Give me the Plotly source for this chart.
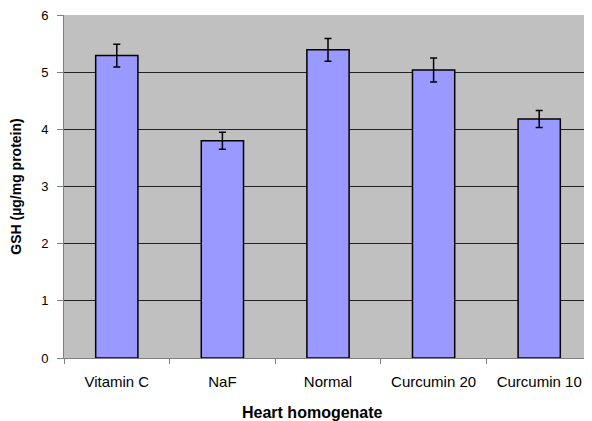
import plotly.graph_objects as go

categories = ["Vitamin C", "NaF", "Normal", "Curcumin 20", "Curcumin 10"]
gsh_values = [5.29, 3.80, 5.39, 5.04, 4.18]
gsh_errors = [0.20, 0.15, 0.20, 0.21, 0.15]
y_ticks = [0, 1, 2, 3, 4, 5, 6]

fig = go.Figure(go.Bar(
    x=categories, y=gsh_values,
    marker=dict(color="#9999FF", line=dict(color="#000000", width=1.5)),
    error_y=dict(type="data", array=gsh_errors, color="#000000", thickness=1.5, width=3.5),
    width=0.4,
))

font = dict(family="Liberation Sans, Arial, sans-serif", size=13, color="#000000")
fig.update_layout(
    width=584, height=413,
    margin=dict(l=56, r=0, t=7, b=63, autoexpand=False),
    paper_bgcolor="#FFFFFF", plot_bgcolor="#C0C0C0",
    font=font, showlegend=False,
    xaxis=dict(
        range=[-0.5, 4.5], tickson="boundaries", ticks="outside", ticklen=5,
        tickcolor="#808080", showline=True, linecolor="#808080", linewidth=1,
        showgrid=False, tickfont=dict(size=15), ticklabelstandoff=10,
        ticklabeloverflow="allow",
    ),
    yaxis=dict(
        range=[0, 6], tickvals=y_ticks, ticks="outside", ticklen=6,
        tickcolor="#808080", showline=True, linecolor="#808080", linewidth=1,
        showgrid=True, gridcolor="#222222", gridwidth=1, zeroline=False,
        tickfont=dict(size=13), ticklabelstandoff=6, ticklabeloverflow="allow",
        title=dict(text="<b>GSH (µg/mg protein)</b>", font=dict(size=14), standoff=16),
    ),
    annotations=[dict(
        text="<b>Heart homogenate</b>", xref="paper", yref="paper",
        x=0.47, y=0, xanchor="center", yanchor="middle", yshift=-54,
        showarrow=False, font=dict(size=16),
    )],
)

fig.write_html("out.html")
